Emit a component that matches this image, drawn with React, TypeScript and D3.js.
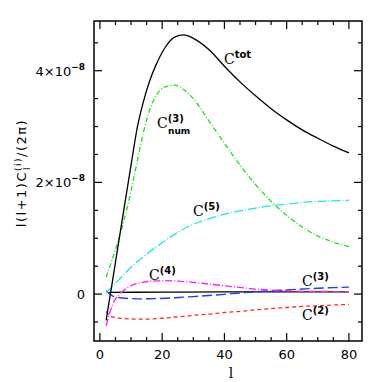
import * as d3 from "d3";

// multipole l grid, values in units of 1e-8
const ells = [2, 3, 4, 5, 6, 8, 10, 12, 14, 16, 18, 21, 24, 27, 30, 35, 40, 45, 50, 55, 60, 65, 70, 75, 80];

const cTot = [-0.47, -0.12, 0.22, 0.57, 0.92, 1.62, 2.31, 2.98, 3.45, 3.82, 4.1, 4.42, 4.6, 4.64, 4.58, 4.38, 4.08, 3.8, 3.55, 3.32, 3.12, 2.94, 2.79, 2.65, 2.53];
const cNum3 = [0.3, 0.46, 0.63, 0.8, 0.98, 1.38, 1.85, 2.38, 2.9, 3.3, 3.55, 3.71, 3.74, 3.66, 3.5, 3.1, 2.7, 2.31, 1.96, 1.66, 1.41, 1.2, 1.04, 0.93, 0.85];
const c5 = [0.03, 0.08, 0.14, 0.2, 0.25, 0.37, 0.48, 0.58, 0.67, 0.76, 0.84, 0.96, 1.07, 1.17, 1.25, 1.35, 1.43, 1.49, 1.54, 1.58, 1.61, 1.64, 1.66, 1.67, 1.68];
const c4 = [-0.57, -0.36, -0.2, -0.09, -0.02, 0.08, 0.15, 0.19, 0.215, 0.228, 0.235, 0.24, 0.235, 0.225, 0.21, 0.18, 0.15, 0.12, 0.09, 0.07, 0.06, 0.05, 0.05, 0.045, 0.045];
const c3 = [0.06, 0.01, -0.03, -0.05, -0.06, -0.075, -0.08, -0.085, -0.085, -0.083, -0.08, -0.075, -0.065, -0.055, -0.045, -0.025, -0.005, 0.02, 0.04, 0.06, 0.075, 0.09, 0.105, 0.115, 0.125];
const c2 = [-0.31, -0.38, -0.41, -0.42, -0.43, -0.44, -0.445, -0.45, -0.45, -0.447, -0.44, -0.43, -0.41, -0.4, -0.38, -0.36, -0.33, -0.31, -0.28, -0.26, -0.24, -0.22, -0.21, -0.195, -0.185];
const c1Ells = [3, 20, 40, 60, 80];
const c1 = [0.03, 0.035, 0.04, 0.04, 0.04];

const xMajor = [0, 20, 40, 60, 80];
const xMinor = d3.range(0, 81, 5);
const yMajor = [0, 2, 4];
const yMinor = d3.range(-0.5, 4.6, 0.5);
const yLabels = ["0", "2×10", "4×10"];

const W = 382;
const H = 382;
const m = { l: 94, r: 20, t: 21, b: 41 };

const series = [
  { name: "C1", l: c1Ells, v: c1, color: "#000", dash: "none", w: 1.3 },
  { name: "C2", l: ells, v: c2, color: "#ff2a2a", dash: "4,3", w: 1.3 },
  { name: "C3", l: ells, v: c3, color: "#1a3cff", dash: "10,4", w: 1.4 },
  { name: "C4", l: ells, v: c4, color: "#ff1aff", dash: "7,2,1,2", w: 1.3 },
  { name: "C5", l: ells, v: c5, color: "#1ae6e6", dash: "9,2,1,2", w: 1.3 },
  { name: "Cnum3", l: ells, v: cNum3, color: "#1ee01e", dash: "5,2,1,2", w: 1.3 },
  { name: "Ctot", l: ells, v: cTot, color: "#000", dash: "none", w: 1.3 },
];

export default function App() {
  const x = d3.scaleLinear().domain([-1.9, 84.2]).range([m.l, W - m.r]);
  const y = d3.scaleLinear().domain([-0.84, 4.89]).range([H - m.b, m.t]);

  const line = (ls: number[], vs: number[]) =>
    d3
      .line<number>()
      .x((_, i) => x(ls[i]))
      .y((d) => y(d))
      .curve(d3.curveMonotoneX)(vs) as string;

  const x0 = m.l;
  const x1 = W - m.r;
  const y0 = m.t;
  const y1 = H - m.b;

  const cLabel = (lx: number, ly: number, sup: string, sub?: string) => (
    <text x={lx} y={ly} fontFamily="'DejaVu Serif', serif" fontSize={14} fill="#000">
      C
      <tspan fontSize={10} fontWeight="bold" dy={-6} fontFamily="'DejaVu Sans', sans-serif">
        {sup}
      </tspan>
      {sub && (
        <tspan fontSize={9} fontWeight="bold" x={lx + 11} dy={12} fontFamily="'DejaVu Sans', sans-serif">
          {sub}
        </tspan>
      )}
    </text>
  );

  return (
    <svg width={W} height={H} style={{ position: "absolute", left: 0, top: 0, background: "#fff" }}>
      <g>
        {series.map((s) => (
          <path
            key={s.name}
            d={line(s.l, s.v)}
            fill="none"
            stroke={s.color}
            strokeWidth={s.w}
            strokeDasharray={s.dash}
          />
        ))}
      </g>

      {/* frame and ticks */}
      <rect x={x0} y={y0} width={x1 - x0} height={y1 - y0} fill="none" stroke="#000" strokeWidth={1.5} />
      {xMinor.map((t) => {
        const len = xMajor.includes(t) ? 8 : 4;
        return (
          <g key={"xt" + t} stroke="#000" strokeWidth={1.2}>
            <line x1={x(t)} x2={x(t)} y1={y1} y2={y1 - len} />
            <line x1={x(t)} x2={x(t)} y1={y0} y2={y0 + len} />
          </g>
        );
      })}
      {yMinor.map((t) => {
        const len = yMajor.some((v) => Math.abs(v - t) < 1e-6) ? 8 : 4;
        return (
          <g key={"yt" + t} stroke="#000" strokeWidth={1.2}>
            <line x1={x0} x2={x0 + len} y1={y(t)} y2={y(t)} />
            <line x1={x1} x2={x1 - len} y1={y(t)} y2={y(t)} />
          </g>
        );
      })}

      {/* tick labels */}
      {xMajor.map((t) => (
        <text key={"xl" + t} x={x(t)} y={359} textAnchor="middle" fontFamily="'DejaVu Sans', sans-serif" fontSize={13}>
          {t}
        </text>
      ))}
      {yMajor.map((t, i) =>
        t === 0 ? (
          <text key={"yl" + t} x={85} y={y(t) + 5} textAnchor="end" fontFamily="'DejaVu Sans', sans-serif" fontSize={13}>
            0
          </text>
        ) : (
          <text key={"yl" + t} x={85} y={y(t) + 5} textAnchor="end" fontFamily="'DejaVu Sans', sans-serif" fontSize={13}>
            {yLabels[i]}
            <tspan fontSize={9} fontWeight="bold" dy={-6}>
              −8
            </tspan>
          </text>
        )
      )}

      {/* axis titles */}
      <text x={231} y={378} textAnchor="middle" fontFamily="'DejaVu Serif', serif" fontSize={14}>
        l
      </text>
      <text
        transform={`translate(26,${173}) rotate(-90)`}
        textAnchor="middle"
        fontFamily="'DejaVu Sans', sans-serif"
        fontSize={13}
        letterSpacing={1.5}
      >
        l(l+1)C
        <tspan fontSize={9} dy={-5}>(i)</tspan>
        <tspan fontSize={9} dy={9} dx={-13}>l</tspan>
        <tspan dy={-4} dx={9}>/(2π)</tspan>
      </text>

      {/* curve labels */}
      {cLabel(224, 64, "tot")}
      {cLabel(157, 128, "(3)", "num")}
      {cLabel(193, 216, "(5)")}
      {cLabel(149, 280, "(4)")}
      {cLabel(302, 286, "(3)")}
      {cLabel(302, 320, "(2)")}
    </svg>
  );
}
